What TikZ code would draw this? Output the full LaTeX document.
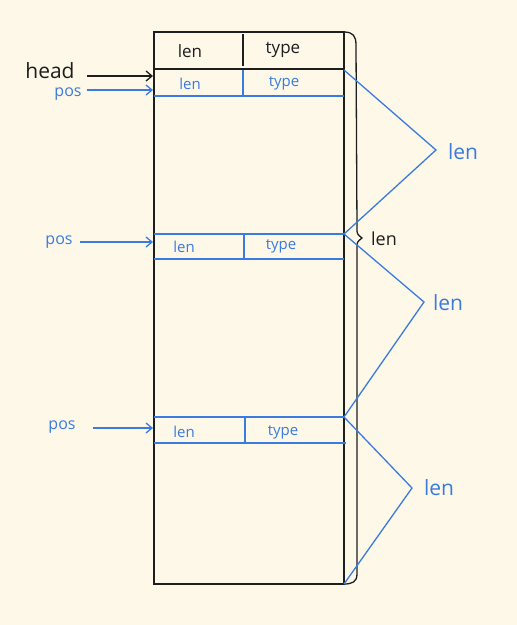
\documentclass[tikz,border=0pt]{standalone}
\usepackage{fontspec}
\setmainfont{Open Sans}
\usetikzlibrary{arrows.meta}
\definecolor{bg}{HTML}{FEF8E9}
\definecolor{pen}{HTML}{3A7BDF}
\definecolor{ink}{HTML}{1E1E1E}
\tikzset{
  blk/.style={draw=ink, line width=1.5pt},
  blu/.style={draw=pen, line width=1.3pt},
  arr/.style={-{Straight Barb[length=6pt,width=10pt]}},
  btxt/.style={text=pen, font=\fontsize{15}{15}\selectfont, inner sep=0pt},
  bigtxt/.style={text=pen, font=\fontsize{21}{21}\selectfont, inner sep=0pt},
  ktxt/.style={text=ink, font=\fontsize{17}{17}\selectfont, inner sep=0pt},
}
\begin{document}
\begin{tikzpicture}[x=1pt,y=-1pt]
\fill[bg] (0,0) rectangle (517,625);
\useasboundingbox (0,0) rectangle (517,625);
% main box
\coordinate (TL) at (154,32);
\coordinate (BR) at (344,584);
\draw[blk] (TL) rectangle (BR);
% header
\draw[blk] (154,69) -- (344,69);
\draw[blk] (243,34) -- (243,66);
\node[ktxt] (hlen) at (190,51) {len};
\node[ktxt] (htype) at (283,50) {type};
% row 1
\draw[blu] (154,96) -- (344,96);
\draw[blu] (243,70) -- (243,97);
\node[btxt] (l1) at (190,84) {len};
\node[btxt] (t1) at (284,83) {type};
% row 2
\draw[blu] (154,234) -- (344,234);
\draw[blu] (154,259) -- (344,259);
\draw[blu] (244,234) -- (244,259);
\node[btxt] (l2) at (184,247) {len};
\node[btxt] (t2) at (281,246) {type};
% row 3
\draw[blu] (154,417) -- (344,417);
\draw[blu] (154,443) -- (346,443);
\draw[blu] (245,418) -- (245,443);
\node[btxt] (l3) at (184,432) {len};
\node[btxt] (t3) at (283,432) {type};
% head / pos arrows
\node[ktxt, font=\fontsize{21}{21}\selectfont] (head) at (50,71) {head};
\coordinate (headend) at (153,76);
\draw[ink, line width=1.3pt, arr] (87,76) -- (headend);
\node[btxt, font=\fontsize{16}{16}\selectfont] (pos1) at (68,94) {pos};
\coordinate (p1end) at (153,90);
\draw[blu, arr] (87,90) -- (p1end);
\node[btxt, font=\fontsize{16}{16}\selectfont] (pos2) at (59,242) {pos};
\coordinate (p2end) at (153,242);
\draw[blu, arr] (80,242) -- (p2end);
\node[btxt, font=\fontsize{16}{16}\selectfont] (pos3) at (62,427) {pos};
\coordinate (p3end) at (153,428);
\draw[blu, arr] (93,428) -- (p3end);
% brace
\draw[ink, line width=1.3pt] (344,32) .. controls (353,32) and (356,36) .. (356,45)
  -- (357,228) .. controls (357,234) .. (362,238) .. controls (357,242) .. (357,248)
  -- (357,574) .. controls (357,582) and (352,584) .. (344,584);
\node[ktxt, font=\fontsize{18}{18}\selectfont] (blen) at (384,239) {len};
% blue chevrons
\coordinate (a1) at (344,70);
\coordinate (a2) at (344,234);
\coordinate (a3) at (344,417);
\coordinate (a4) at (344,584);
\coordinate (c1) at (436,150);
\coordinate (c2) at (424,302);
\coordinate (c3) at (412,488);
\draw[blu] (a1) -- (c1) -- (a2) -- (c2) -- (a3) -- (c3) -- (a4);
\node[bigtxt] (len1) at (463,152) {len};
\node[bigtxt] (len2) at (448,303) {len};
\node[bigtxt] (len3) at (439,488) {len};
\end{tikzpicture}
\end{document}
